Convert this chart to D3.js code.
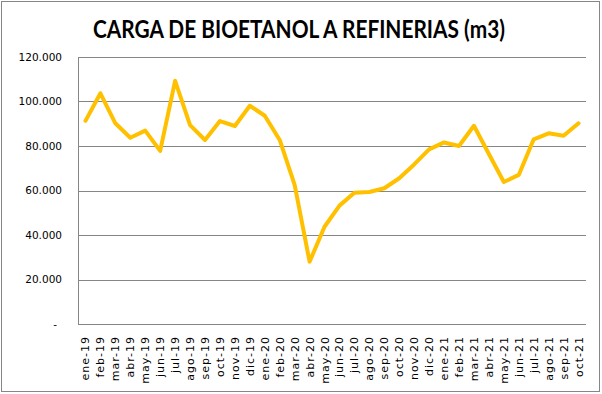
<!DOCTYPE html>
<html><head><meta charset="utf-8">
<script src="https://cdn.jsdelivr.net/npm/d3@7"></script>
<style>body{margin:0;background:#fff}svg{display:block}</style>
</head><body>
<svg id="c" width="602" height="394"></svg>
<script>
const categories = ["ene-19","feb-19","mar-19","abr-19","may-19","jun-19","jul-19","ago-19","sep-19","oct-19","nov-19","dic-19",
"ene-20","feb-20","mar-20","abr-20","may-20","jun-20","jul-20","ago-20","sep-20","oct-20","nov-20","dic-20",
"ene-21","feb-21","mar-21","abr-21","may-21","jun-21","jul-21","ago-21","sep-21","oct-21"];
const values = [91300,103700,90200,83700,86900,77800,109300,89400,82700,91200,89000,98100,
93600,82700,62500,28000,43700,53200,59000,59300,61000,65500,71700,78500,
81600,80000,89100,76400,63800,67000,83000,85700,84600,90200];
const yTicks = [0,20000,40000,60000,80000,100000,120000];
const title = "CARGA DE BIOETANOL A REFINERIAS (m3)";

const svg = d3.select("#c");
const m = {left:78, right:586, top:57, bottom:324};
svg.append("rect").attr("x",1.5).attr("y",1.5).attr("width",598).attr("height",390)
  .attr("fill","#fff").attr("stroke","#868686").attr("stroke-width",1);

const x = d3.scaleBand().domain(categories).range([m.left,m.right]);
const y = d3.scaleLinear().domain([0,120000]).range([m.bottom,m.top]);
const fmt = v => v===0 ? "-" : d3.format(",")(v).replace(/,/g,".");

// gridlines
svg.append("g").selectAll("line").data(yTicks.filter(d=>d>0)).join("line")
  .attr("x1",m.left).attr("x2",m.right)
  .attr("y1",d=>Math.round(y(d))+0.5).attr("y2",d=>Math.round(y(d))+0.5)
  .attr("stroke","#868686").attr("stroke-width",1);
// axes lines
svg.append("line").attr("x1",m.left+0.5).attr("x2",m.left+0.5).attr("y1",m.top).attr("y2",m.bottom+0.5)
  .attr("stroke","#868686");
svg.append("line").attr("x1",m.left).attr("x2",m.right).attr("y1",m.bottom+0.5).attr("y2",m.bottom+0.5)
  .attr("stroke","#868686");

// y labels
svg.append("g").selectAll("text").data(yTicks).join("text")
  .attr("x",d=>d===0?57:62).attr("y",d=>y(d)).attr("dy","0.35em")
  .attr("text-anchor","end").attr("font-family","DejaVu Sans").attr("font-size","10.5px")
  .attr("fill","#000").text(fmt);

// x labels
svg.append("g").selectAll("text").data(categories).join("text")
  .attr("transform",d=>`translate(${x(d)+x.bandwidth()/2+4},336) rotate(-90)`)
  .attr("text-anchor","end").attr("font-family","DejaVu Sans").attr("font-size","11px")
  .attr("letter-spacing","1px").attr("fill","#000").text(d=>d);

// line
const line = d3.line().x((d,i)=>x(categories[i])+x.bandwidth()/2).y(d=>y(d));
svg.append("path").datum(values).attr("d",line).attr("fill","none")
  .attr("stroke","#FFC000").attr("stroke-width",4).attr("stroke-linejoin","round").attr("stroke-linecap","round");

// title
svg.append("text").attr("x",299).attr("y",38).attr("text-anchor","middle")
  .attr("font-family","Lato, 'Open Sans', sans-serif").attr("font-weight","bold")
  .attr("font-size","24px").attr("textLength",412).attr("lengthAdjust","spacingAndGlyphs")
  .attr("fill","#000").text(title);
</script>
</body></html>
